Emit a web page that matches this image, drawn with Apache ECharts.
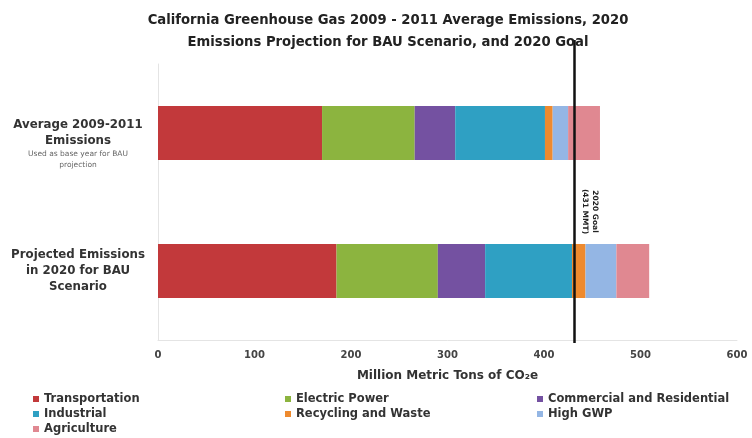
<!DOCTYPE html>
<html>
<head>
<meta charset="utf-8">
<script src="https://cdn.jsdelivr.net/npm/echarts@6/dist/echarts.min.js"></script>
<style>html,body{margin:0;padding:0;background:#fff}#c{width:752px;height:438px}</style>
</head>
<body>
<div id="c"></div>
<script>
const categories = ['Average 2009-2011\nEmissions', 'Projected Emissions\nin 2020 for BAU\nScenario'];
const categoryNotes = ['Used as base year for BAU\nprojection', ''];
const seriesNames = ['Transportation', 'Electric Power', 'Commercial and Residential', 'Industrial', 'Recycling and Waste', 'High GWP', 'Agriculture'];
const transportation = [170, 185];
const electricPower = [96, 105];
const commercialResidential = [42, 49];
const industrial = [93, 90];
const recyclingWaste = [8, 14];
const highGWP = [16, 32];
const agriculture = [33, 34];
const goalValue = 431;
const goalLabel = '2020 Goal\n(431 MMT)';
const xTicks = [0, 100, 200, 300, 400, 500, 600];
const colors = ['#c2393b', '#8cb43f', '#7451a1', '#2fa0c3', '#ee8a2e', '#94b6e4', '#e08891'];

const seriesValues = [transportation, electricPower, commercialResidential, industrial, recyclingWaste, highGWP, agriculture];
const font = '"DejaVu Sans", "Open Sans", sans-serif';

const chart = echarts.init(document.getElementById('c'));
const series = seriesNames.map((name, i) => ({
  name: name,
  type: 'bar',
  stack: 'total',
  barWidth: 54,
  data: seriesValues[i],
  itemStyle: { color: colors[i] }
}));
// goal line on a taller overlay grid sharing the same x scale
series.push({
  name: 'goalLine',
  type: 'scatter',
  xAxisIndex: 1,
  yAxisIndex: 1,
  data: [],
  markLine: {
    silent: true,
    symbol: 'none',
    lineStyle: { color: '#111', width: 2.5, type: 'solid' },
    label: {
      show: true,
      formatter: goalLabel,
      position: 'insideMiddleTop',
      distance: 6,
      padding: [0, 0, 0, 40],
      fontFamily: font,
      fontWeight: 'bold',
      fontSize: 7.5,
      lineHeight: 10,
      color: '#222'
    },
    data: [{ xAxis: goalValue }]
  }
});

chart.setOption({
  animation: false,
  color: colors,
  title: {
    text: 'California Greenhouse Gas 2009 - 2011 Average Emissions, 2020\nEmissions Projection for BAU Scenario, and 2020 Goal',
    left: 383,
    top: 5,
    textAlign: 'center',
    textStyle: { fontFamily: font, fontWeight: 'bold', fontSize: 13.2, lineHeight: 22, color: '#222' }
  },
  grid: [
    { left: 158, right: 15, top: 64, bottom: 98 },
    { left: 158, right: 15, top: 40, bottom: 95 }
  ],
  xAxis: [{
    type: 'value',
    min: xTicks[0],
    max: xTicks[xTicks.length - 1],
    interval: xTicks[1] - xTicks[0],
    name: 'Million Metric Tons of CO\u2082e',
    nameLocation: 'middle',
    nameGap: 30,
    nameTextStyle: { fontFamily: font, fontWeight: 'bold', fontSize: 12, color: '#333' },
    axisLine: { show: true, lineStyle: { color: '#e4e4e4' } },
    axisTick: { show: false },
    splitLine: { show: false },
    axisLabel: { fontFamily: font, fontWeight: 'bold', fontSize: 10, color: '#444', margin: 10 }
  }, {
    type: 'value',
    gridIndex: 1,
    min: xTicks[0],
    max: xTicks[xTicks.length - 1],
    show: false
  }],
  yAxis: [{
    type: 'category',
    inverse: true,
    data: categories,
    axisLine: { show: true, lineStyle: { color: '#e4e4e4' } },
    axisTick: { show: false },
    axisLabel: {
      margin: 80,
      align: 'center',
      formatter: function (value, idx) {
        const note = categoryNotes[idx];
        let s = note ? '{sp| }\n' : '';
        s += value.split('\n').map(l => '{main|' + l + '}').join('\n');
        if (note) s += '\n' + note.split('\n').map(l => '{note|' + l + '}').join('\n');
        return s;
      },
      rich: {
        sp: { fontSize: 6, lineHeight: 22 },
        main: { fontFamily: font, fontWeight: 'bold', fontSize: 11.8, lineHeight: 16, color: '#333', align: 'center' },
        note: { fontFamily: font, fontSize: 7.5, lineHeight: 11, color: '#666', align: 'center' }
      }
    }
  }, {
    type: 'value',
    gridIndex: 1,
    inverse: true,
    show: false
  }],
  legend: {
    left: 28,
    top: 388,
    width: 760,
    itemWidth: 6,
    itemHeight: 6,
    itemGap: 3,
    icon: 'rect',
    data: seriesNames,
    textStyle: { fontFamily: font, fontWeight: 'bold', fontSize: 11.5, lineHeight: 11, color: '#333', width: 238 }
  },
  series: series
});
</script>
</body>
</html>
